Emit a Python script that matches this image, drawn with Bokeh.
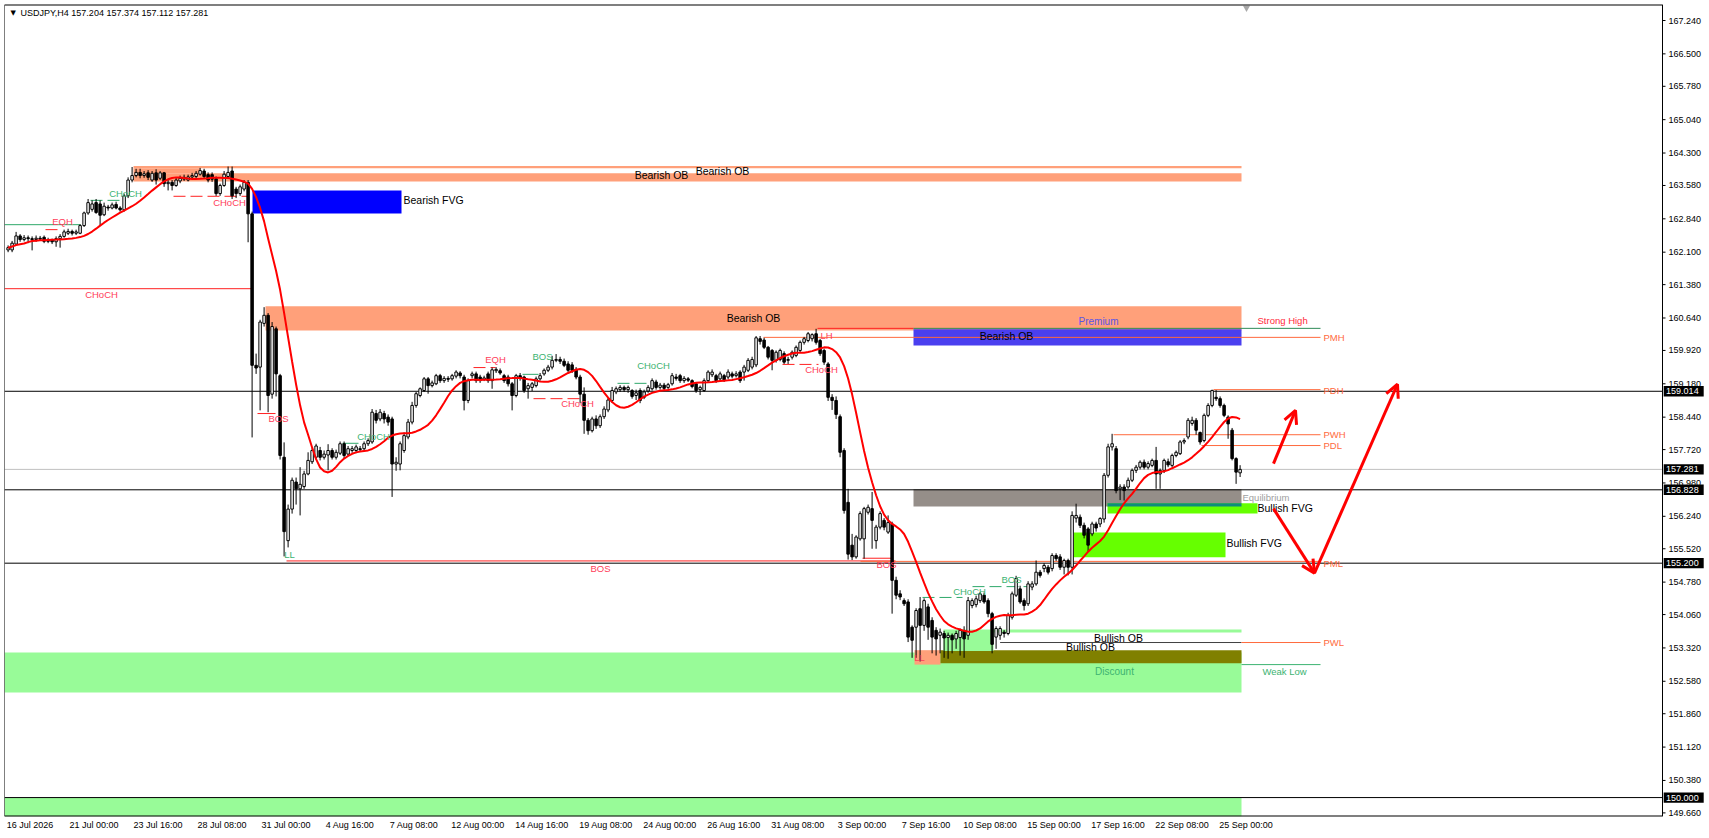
import numpy as np
import pandas as pd
from bokeh.plotting import figure
from bokeh.models import (ColumnDataSource, Range1d, FixedTicker, NumeralTickFormatter,
                          Label, Arrow, OpenHead)
from bokeh.embed import file_html
from bokeh.resources import INLINE
from bokeh.core.properties import value

# ---------------- data (USDJPY H4) ----------------
symbol = "USDJPY,H4"
last_ohlc = "157.204 157.374 157.112 157.281"

ohlc = [
 (162.15,162.25,162.10,162.20),(162.15,162.35,162.10,162.30),(162.28,162.55,162.25,162.46),(162.46,162.50,162.33,162.38),
 (162.38,162.48,162.34,162.42),(162.42,162.47,162.30,162.40),(162.40,162.45,162.14,162.38),(162.38,162.47,162.33,162.41),
 (162.41,162.46,162.35,162.39),(162.43,162.47,162.30,162.34),(162.34,162.42,162.30,162.37),(162.37,162.40,162.28,162.33),
 (162.33,162.45,162.22,162.40),(162.40,162.50,162.20,162.45),(162.45,162.60,162.42,162.55),(162.52,162.62,162.48,162.56),
 (162.56,162.60,162.47,162.52),(162.52,162.60,162.48,162.55),(162.52,162.72,162.50,162.69),(162.69,163.00,162.66,162.97),
 (162.97,163.28,162.93,163.20),(163.05,163.25,163.00,163.17),(163.20,163.28,162.95,162.98),(163.17,163.25,162.70,162.92),
 (162.93,163.20,162.90,163.12),(163.10,163.15,163.02,163.08),(163.08,163.20,163.05,163.15),(163.16,163.22,163.05,163.08),
 (163.08,163.12,163.00,163.04),(163.04,163.40,163.00,163.35),(163.35,163.76,163.30,163.70),(163.70,163.99,163.65,163.80),
 (163.80,163.95,163.76,163.87),(163.87,163.95,163.74,163.80),(163.80,163.90,163.75,163.84),(163.86,163.92,163.70,163.76),
 (163.70,163.90,163.66,163.85),(163.86,163.94,163.60,163.70),(163.74,163.90,163.70,163.86),(163.86,163.88,163.55,163.62),
 (163.62,163.70,163.47,163.65),(163.65,163.70,163.47,163.58),(163.58,163.75,163.55,163.70),(163.68,163.80,163.63,163.74),
 (163.72,163.82,163.68,163.76),(163.70,163.82,163.67,163.77),(163.77,163.86,163.72,163.80),(163.78,163.90,163.74,163.85),
 (163.83,163.97,163.80,163.91),(163.90,163.95,163.74,163.78),(163.82,163.87,163.65,163.70),(163.82,163.87,163.66,163.72),
 (163.73,163.78,163.35,163.40),(163.40,163.62,163.35,163.58),(163.58,163.90,163.55,163.83),(163.78,164.00,163.73,163.87),
 (163.90,164.00,163.28,163.35),(163.50,163.55,163.30,163.40),(163.40,163.60,163.35,163.55),(163.50,163.70,163.45,163.65),
 (163.65,163.70,162.32,162.95),(162.95,163.00,157.99,159.59),(159.59,159.85,159.40,159.53),(159.55,160.60,158.59,160.55),
 (160.52,160.88,160.45,160.70),(160.70,160.75,158.55,158.92),(158.95,160.55,158.85,160.45),(160.40,160.45,158.90,159.40),
 (159.36,159.40,157.50,157.59),(157.55,157.88,155.35,155.90),(155.70,156.50,155.55,156.40),(156.40,157.10,156.30,157.04),
 (157.00,157.10,156.50,156.85),(156.85,157.33,156.26,156.95),(156.90,157.25,156.85,157.18),(157.18,157.66,157.15,157.48),
 (157.45,157.75,157.40,157.70),(157.55,157.85,157.50,157.80),(157.70,157.78,157.48,157.55),(157.55,157.70,157.50,157.62),
 (157.60,157.84,157.26,157.70),(157.70,157.75,157.50,157.55),(157.55,157.72,157.50,157.66),(157.64,157.90,157.60,157.85),
 (157.85,157.90,157.52,157.59),(157.62,157.80,157.58,157.74),(157.70,157.80,157.65,157.74),(157.70,157.83,157.64,157.78),
 (157.74,157.80,157.68,157.72),(157.74,157.90,157.70,157.85),(157.85,157.97,157.80,157.92),(157.89,158.62,157.85,158.55),
 (158.52,158.60,158.30,158.37),(158.40,158.62,158.35,158.55),(158.52,158.58,158.30,158.40),(158.44,158.50,158.25,158.33),
 (158.40,158.45,156.67,157.40),(157.40,157.55,157.25,157.44),(157.40,157.90,157.26,157.85),(157.70,158.10,157.65,158.03),
 (158.00,158.40,157.95,158.33),(158.33,158.78,158.28,158.70),(158.70,159.00,158.65,158.96),(158.92,159.10,158.88,159.07),
 (159.03,159.33,159.00,159.29),(159.29,159.33,158.96,159.14),(159.14,159.25,159.10,159.20),(159.18,159.40,159.15,159.36),
 (159.36,159.40,159.20,159.25),(159.25,159.35,159.20,159.30),(159.30,159.35,159.22,159.28),(159.29,159.40,159.25,159.36),
 (159.35,159.48,159.30,159.44),(159.42,159.46,159.30,159.36),(159.33,159.38,158.59,158.81),(158.81,159.30,158.75,159.25),
 (159.36,159.45,159.30,159.40),(159.40,159.45,159.20,159.25),(159.33,159.38,159.20,159.25),(159.28,159.36,159.24,159.31),
 (159.40,159.45,159.20,159.25),(159.25,159.54,159.07,159.49),(159.47,159.55,159.42,159.50),(159.47,159.52,159.38,159.42),
 (159.36,159.40,159.20,159.25),(159.33,159.38,159.12,159.18),(159.18,159.22,158.59,158.92),(158.92,159.40,158.88,159.36),
 (159.36,159.42,159.25,159.30),(159.33,159.36,158.98,159.03),(159.07,159.20,158.85,159.14),(159.10,159.22,159.02,159.18),
 (159.14,159.34,159.10,159.29),(159.29,159.42,159.25,159.36),(159.40,159.52,159.36,159.48),(159.48,159.60,159.44,159.55),
 (159.55,159.80,159.50,159.70),(159.70,159.84,159.66,159.72),(159.72,159.78,159.62,159.68),(159.68,159.74,159.55,159.59),
 (159.62,159.68,159.44,159.48),(159.60,159.66,159.42,159.48),(159.50,159.55,159.28,159.33),(159.33,159.38,158.75,158.95),
 (158.95,159.10,158.07,158.37),(158.37,158.42,158.05,158.14),(158.14,158.45,158.10,158.40),(158.40,158.48,158.18,158.25),
 (158.25,158.50,158.20,158.45),(158.45,158.68,158.40,158.62),(158.60,158.88,158.55,158.82),(158.81,159.11,158.76,159.03),
 (159.00,159.12,158.95,159.07),(159.05,159.15,159.00,159.10),(159.10,159.14,159.00,159.05),(159.05,159.14,158.98,159.10),
 (159.03,159.06,158.85,158.90),(158.92,159.05,158.82,158.98),(159.03,159.08,158.75,158.81),(158.88,159.05,158.84,159.00),
 (159.02,159.15,158.98,159.10),(159.07,159.30,159.03,159.25),(159.22,159.27,159.05,159.10),(159.10,159.20,159.05,159.15),
 (159.15,159.20,159.02,159.08),(159.10,159.20,159.05,159.16),(159.18,159.42,159.14,159.36),(159.33,159.40,159.25,159.30),
 (159.36,159.40,159.20,159.25),(159.25,159.35,159.20,159.30),(159.29,159.33,159.22,159.26),(159.25,159.28,159.08,159.12),
 (159.18,159.22,158.98,159.03),(159.05,159.14,158.93,159.10),(159.03,159.30,159.00,159.25),(159.25,159.48,159.20,159.44),
 (159.38,159.50,159.33,159.44),(159.36,159.40,159.20,159.25),(159.29,159.45,159.24,159.40),(159.36,159.40,159.22,159.27),
 (159.33,159.50,159.28,159.44),(159.40,159.45,159.30,159.35),(159.36,159.46,159.32,159.40),(159.44,159.48,159.20,159.25),
 (159.44,159.60,159.25,159.55),(159.48,159.75,159.44,159.70),(159.55,159.78,159.50,159.72),(159.60,160.24,159.55,160.20),
 (160.18,160.24,160.05,160.12),(160.15,160.20,159.95,159.99),(159.99,160.02,159.72,159.77),(159.92,159.95,159.48,159.70),
 (159.70,159.92,159.65,159.88),(159.72,159.96,159.68,159.92),(159.85,159.90,159.62,159.66),(159.70,159.78,159.62,159.72),
 (159.77,159.92,159.72,159.88),(159.81,160.03,159.77,159.99),(159.92,160.14,159.88,160.10),(160.10,160.22,160.05,160.18),
 (160.14,160.33,160.10,160.29),(160.18,160.30,160.12,160.27),(160.29,160.40,160.05,160.10),(160.14,160.18,159.80,159.85),
 (159.92,159.96,159.60,159.66),(159.62,159.66,158.80,158.88),(158.88,158.95,158.60,158.81),(158.81,158.90,158.40,158.50),
 (158.45,158.50,157.55,157.66),(157.70,157.75,156.30,156.37),(156.55,156.85,155.28,155.40),(155.60,155.85,155.27,155.34),
 (155.34,155.82,155.30,155.78),(155.74,156.35,155.70,156.30),(155.74,156.45,155.30,156.41),(156.33,156.50,156.28,156.44),
 (156.41,156.78,155.52,156.15),(155.70,156.05,155.52,156.00),(156.00,156.35,155.95,156.30),(156.15,156.20,155.93,156.00),
 (155.89,156.26,155.85,156.10),(156.07,156.12,154.08,154.82),(154.82,154.90,154.40,154.49),(154.52,154.60,154.38,154.45),
 (154.37,154.42,154.25,154.30),(154.34,154.40,153.45,153.56),(153.78,153.82,153.10,153.49),(153.78,154.20,153.10,154.15),
 (154.19,154.45,153.02,153.82),(153.82,154.42,153.70,154.37),(154.23,154.30,153.50,153.78),(153.93,154.00,153.20,153.56),
 (153.71,153.78,153.15,153.52),(153.60,153.75,153.20,153.67),(153.64,153.70,153.10,153.54),(153.55,153.66,153.08,153.60),
 (153.60,153.64,153.20,153.50),(153.52,153.70,153.30,153.64),(153.55,153.75,153.15,153.71),(153.70,153.80,153.10,153.52),
 (153.60,154.45,153.50,154.37),(154.26,154.42,154.20,154.37),(154.28,154.48,154.22,154.41),(154.37,154.56,154.32,154.52),
 (154.49,154.55,154.30,154.34),(154.37,154.42,154.00,154.08),(154.08,154.12,153.20,153.40),(153.56,153.80,153.30,153.75),
 (153.60,153.80,153.50,153.75),(153.67,153.72,153.55,153.64),(153.64,154.10,153.60,154.04),(154.00,154.57,153.95,154.52),
 (154.49,154.92,154.45,154.86),(154.63,154.70,154.30,154.34),(154.37,154.42,154.15,154.26),(154.30,154.80,154.25,154.74),
 (154.67,154.80,154.60,154.74),(154.74,155.26,154.70,155.00),(155.00,155.05,154.88,154.93),(155.08,155.20,155.00,155.15),
 (155.11,155.16,154.95,155.00),(155.08,155.42,155.02,155.37),(155.37,155.42,155.25,155.30),(155.34,155.40,155.05,155.11),
 (155.11,155.30,154.95,155.26),(155.26,155.30,154.93,155.11),(155.11,156.35,154.95,156.26),(156.20,156.52,156.10,156.26),
 (156.22,156.28,155.98,156.04),(156.04,156.10,155.75,155.82),(155.96,156.00,155.45,155.60),(155.85,156.12,155.80,156.07),
 (156.07,156.12,155.90,155.98),(156.07,156.22,156.00,156.19),(156.18,157.20,156.10,157.15),(157.15,157.85,157.10,157.78),
 (157.78,158.07,157.70,157.85),(157.74,157.80,156.75,156.81),(156.85,156.95,156.60,156.89),(156.89,156.95,156.59,156.81),
 (156.89,157.10,156.85,157.04),(157.04,157.30,157.00,157.26),(157.26,157.38,157.20,157.33),(157.33,157.48,157.28,157.44),
 (157.44,157.50,157.28,157.33),(157.33,157.46,157.28,157.41),(157.37,157.52,157.33,157.48),(157.48,157.78,156.85,157.18),
 (157.18,157.30,156.85,157.26),(157.26,157.52,157.20,157.48),(157.45,157.52,157.33,157.38),(157.37,157.63,157.33,157.59),
 (157.59,157.70,157.55,157.66),(157.63,157.93,157.60,157.89),(157.89,157.97,157.84,157.92),(158.00,158.42,157.95,158.37),
 (158.30,158.45,158.25,158.37),(158.37,158.42,158.05,158.15),(158.10,158.12,157.83,157.89),(157.92,158.52,157.88,158.48),
 (158.48,158.75,158.44,158.70),(158.70,159.05,158.66,159.03),(158.88,159.04,158.80,158.85),(158.85,158.90,158.65,158.70),
 (158.70,158.74,158.44,158.48),(158.44,158.48,157.96,158.29),(158.15,158.20,157.48,157.52),(157.52,157.55,156.96,157.22),
 (157.204,157.374,157.112,157.281),
]
open_ = np.array([r[0] for r in ohlc])
high_ = np.array([r[1] for r in ohlc])
low_ = np.array([r[2] for r in ohlc])
close_ = np.array([r[3] for r in ohlc])
bars = np.arange(len(ohlc))

date_bars = [0, 16, 32, 48, 64, 80, 96, 112, 128, 144, 160, 176, 192, 208, 224, 240, 256, 272, 288, 304]
date_labels = ["16 Jul 2026", "21 Jul 00:00", "23 Jul 16:00", "28 Jul 08:00", "31 Jul 00:00",
               "4 Aug 16:00", "7 Aug 08:00", "12 Aug 00:00", "14 Aug 16:00", "19 Aug 08:00",
               "24 Aug 00:00", "26 Aug 16:00", "31 Aug 08:00", "3 Sep 00:00", "7 Sep 16:00",
               "10 Sep 08:00", "15 Sep 00:00", "17 Sep 16:00", "22 Sep 08:00", "25 Sep 00:00"]
price_ticks = [167.24, 166.50, 165.78, 165.04, 164.30, 163.58, 162.84, 162.10, 161.38, 160.64,
               159.92, 159.18, 158.44, 157.72, 156.98, 156.24, 155.52, 154.78, 154.06, 153.32,
               152.58, 151.86, 151.12, 150.38, 149.66]

hline_levels = [159.014, 156.828, 155.200, 150.000]
bid_level = 157.281
box_levels = [159.014, 157.281, 156.828, 155.200, 150.000]

# zones: left bar, right bar, bottom price, top price
zone_left   = [-0.9, -0.9, 31.35, 31.35, 31.35, 61.1, 64.35, 226.35, 226.35, 274.85, 274.85, 266.35, 226.6, 233.1, 233.85, 246.35]
zone_right  = [308.35, 308.35, 308.35, 308.35, 48.1, 98.35, 308.35, 308.35, 308.35, 312.35, 308.35, 304.35, 233.1, 308.35, 246.35, 308.35]
zone_bottom = [152.33, 149.58, 163.96, 163.67, 163.85, 162.96, 160.36, 160.03, 156.46, 156.30, 156.46, 155.33, 152.95, 152.98, 153.25, 153.66]
zone_top    = [153.22, 149.99, 164.01, 163.85, 163.96, 163.47, 160.90, 160.39, 156.84, 156.53, 156.53, 155.88, 153.27, 153.27, 153.73, 153.73]
zone_kind   = ["discount", "discount", "bear_ob", "bear_ob", "bear_ob", "bear_fvg", "bear_ob", "prem_ob",
               "equilibrium", "bull_fvg", "fvg_edge", "bull_fvg", "bear_ob", "bull_ob", "discount", "discount"]

# structure lines: x0, x1, price, kind
seg_x0 = [-0.9, -0.9, 62.35, 69.6, 83.6, 128.6, 202.35, 226.35, 188.85, 301.35, 276.35, 298.35, 213.1, 248.0, 308.35, 308.35, 213.6]
seg_x1 = [61.1, 18.1, 66.85, 221.85, 87.6, 132.6, 226.35, 328.1, 328.1, 328.1, 328.1, 328.1, 328.1, 308.35, 328.1, 328.1, 221.1]
seg_y  = [161.29, 162.71, 158.52, 155.25, 157.86, 159.39, 160.41, 160.41, 160.21, 159.05, 158.05, 157.81, 155.24, 153.44, 153.44, 152.95, 155.31]
seg_kind = ["bear", "bull", "bear", "bear", "bull", "bull", "bear", "zone", "level", "level", "level", "level", "level", "dark", "level", "weak", "bear"]

dash_x0 = [9.35, 20.6, 41.35, 116.35, 131.35, 152.35, 193.6, 228.6, 241.1]
dash_x1 = [13.6, 29.4, 59.85, 121.85, 143.85, 161.35, 202.6, 238.6, 254.85]
dash_y  = [162.60, 163.25, 163.34, 159.54, 158.85, 159.19, 159.61, 154.44, 154.68]
dash_kind = ["bear", "bull", "bear", "bear", "bear", "bull", "bear", "bull", "bull"]

# small structure labels
smc_x = [13.6, 29.35, 55.35, 23.35, 67.6, 70.35, 91.35, 121.85, 133.6, 142.35, 148.1, 161.35, 203.35, 219.6, 240.35, 250.85, 227.85]
smc_y = [162.78, 163.40, 163.20, 161.16, 158.41, 155.40, 158.01, 159.72, 159.79, 158.74, 155.08, 159.59, 159.50, 155.17, 154.57, 154.84, 153.10]
smc_text = ["EQH", "CHoCH", "CHoCH", "CHoCH", "BOS", "LL", "CHoCH", "EQH", "BOS", "CHoCH", "BOS", "CHoCH", "CHoCH", "BOS", "CHoCH", "BOS", "LL"]
smc_kind = ["bear", "bull", "bear", "bear", "bear", "bull", "bull", "bear", "bull", "bear", "bear", "bull", "bear", "bear", "bull", "bull", "bear"]

zone_lbl_x = [163.35, 178.6, 186.35, 249.6, 277.6, 270.6]
zone_lbl_y = [163.82, 163.89, 160.63, 160.23, 153.54, 153.34]
zone_lbl_text = ["Bearish OB", "Bearish OB", "Bearish OB", "Bearish OB", "Bullish OB", "Bullish OB"]

fvg_lbl_x = [98.85, 312.35, 304.6]
fvg_lbl_y = [163.25, 156.42, 155.64]
fvg_lbl_text = ["Bearish FVG", "Bullish FVG", "Bullish FVG"]

side_lbl_x = [312.35, 328.85, 328.85, 328.85, 328.85, 328.85, 328.85, 313.6, 308.6, 203.1]
side_lbl_y = [160.59, 160.21, 159.03, 158.05, 157.81, 155.20, 153.44, 152.79, 156.66, 160.25]
side_lbl_text = ["Strong High", "PMH", "PDH", "PWH", "PDL", "PML", "PWL", "Weak Low", "Equilibrium", "LH"]
side_lbl_kind = ["strong", "level", "level", "level", "level", "level", "level", "weak", "eq", "bear"]

pd_lbl_x = [272.6, 276.6]
pd_lbl_y = [160.57, 152.79]
pd_lbl_text = ["Premium", "Discount"]
pd_lbl_kind = ["premium", "weak"]

# projected path arrows (bar, price)
arrow_up_x = [316.35, 321.85]
arrow_up_y = [157.41, 158.59]
path_x = [316.35, 326.6, 347.35]
path_y = [156.41, 154.98, 159.17]

# ---------------- styles ----------------
FONT = "Liberation Sans"
RED_LBL = "#FF3D5A"
GRN_LBL = "#3CB371"
LEVEL = "#FF6A3D"
zone_colors = {"discount": "#98FB98", "bear_ob": "#FFA07A", "bear_fvg": "#0000FF", "prem_ob": "#4A3FEF",
               "equilibrium": "#958E89", "bull_fvg": "#66FF00", "fvg_edge": "#0E8C7C", "bull_ob": "#808000"}
line_colors = {"bear": "#FF2020", "bull": "#2EA86A", "zone": "#2E8B57", "level": LEVEL, "dark": "#404040", "weak": GRN_LBL}
text_colors = {"bear": RED_LBL, "bull": GRN_LBL, "strong": "#FF2A3A", "level": LEVEL, "weak": GRN_LBL,
               "eq": "#A0A0A0", "premium": "#5A55E6"}

# chart area spans bars -0.9..413.6; the price-scale strip to its right is part of the frame
x_start, x_chart_end, x_end = -0.9, 413.6, 423.35
p = figure(width=1709, height=838, output_backend="svg", toolbar_location=None,
           x_range=Range1d(x_start, x_end), y_range=Range1d(149.58, 167.595),
           y_axis_location="right", min_border_left=4, min_border_top=4,
           min_border_right=8, min_border_bottom=22)
p.xgrid.visible = False
p.ygrid.visible = False
p.outline_line_color = None
p.background_fill_color = "white"
p.border_fill_color = "white"

# price axis: labels pulled back into the price strip
p.yaxis.ticker = FixedTicker(ticks=price_ticks)
p.yaxis.formatter = NumeralTickFormatter(format="0.000")
p.yaxis.major_label_text_font = FONT
p.yaxis.major_label_text_font_size = "9px"
p.yaxis.major_label_text_color = "black"
p.yaxis.axis_line_color = None
p.yaxis.major_tick_line_color = None
p.yaxis.major_tick_out = 0
p.yaxis.major_tick_in = 0
p.yaxis.minor_tick_out = 0
p.yaxis.minor_tick_in = 0
p.yaxis.major_label_standoff = -33

xticks = [b + 5.5 for b in date_bars]
p.xaxis.ticker = FixedTicker(ticks=xticks)
p.xaxis.major_label_overrides = {t: l for t, l in zip(xticks, date_labels)}
p.xaxis.major_label_text_font = FONT
p.xaxis.major_label_text_font_size = "9px"
p.xaxis.major_label_text_color = "black"
p.xaxis.axis_line_color = None
p.xaxis.major_tick_out = 0
p.xaxis.major_tick_in = 0
p.xaxis.minor_tick_out = 0
p.xaxis.minor_tick_in = 0
p.xaxis.major_label_standoff = 3

# zones
zsrc = ColumnDataSource(dict(left=zone_left, right=zone_right, bottom=zone_bottom, top=zone_top,
                             color=[zone_colors[k] for k in zone_kind]))
p.quad(left="left", right="right", bottom="bottom", top="top", fill_color="color",
       line_color=None, source=zsrc)

# horizontal price levels (chart area only)
p.segment(x0=x_start, y0=hline_levels, x1=x_chart_end, y1=hline_levels, line_color="black", line_width=1)
p.segment(x0=x_start, y0=[bid_level], x1=x_chart_end, y1=[bid_level], line_color="#C0C0C0", line_width=1)

# structure lines
ssrc = ColumnDataSource(dict(x0=seg_x0, x1=seg_x1, y=seg_y, color=[line_colors[k] for k in seg_kind]))
p.segment(x0="x0", y0="y", x1="x1", y1="y", line_color="color", line_width=1, source=ssrc)
dsrc = ColumnDataSource(dict(x0=dash_x0, x1=dash_x1, y=dash_y, color=[line_colors[k] for k in dash_kind]))
p.segment(x0="x0", y0="y", x1="x1", y1="y", line_color="color", line_width=1, line_dash="12 5", source=dsrc)

# candles
up = close_ >= open_
dn = ~up
p.segment(x0=bars, y0=low_, x1=bars, y1=high_, line_color="black", line_width=1)
p.vbar(x=bars[up], width=0.62, top=close_[up], bottom=open_[up], fill_color="white",
       line_color="black", line_width=1)
p.vbar(x=bars[dn], width=0.62, top=open_[dn], bottom=close_[dn], fill_color="black",
       line_color="black", line_width=1)

# moving average (triangular smoothing of closes)
ma = pd.Series(close_).rolling(10, min_periods=1).mean().rolling(5, min_periods=1).mean()
p.line(bars, ma.values, line_color="#FF0000", line_width=2)

# arrows
p.add_layout(Arrow(end=OpenHead(size=13, line_color="#FF0000", line_width=3),
                   x_start=arrow_up_x[0], y_start=arrow_up_y[0], x_end=arrow_up_x[1], y_end=arrow_up_y[1],
                   line_color="#FF0000", line_width=3))
p.add_layout(Arrow(end=OpenHead(size=13, line_color="#FF0000", line_width=3),
                   x_start=path_x[0], y_start=path_y[0], x_end=path_x[1], y_end=path_y[1],
                   line_color="#FF0000", line_width=3))
p.add_layout(Arrow(end=OpenHead(size=13, line_color="#FF0000", line_width=3),
                   x_start=path_x[1], y_start=path_y[1], x_end=path_x[2], y_end=path_y[2],
                   line_color="#FF0000", line_width=3))

# texts
p.text(x=smc_x, y=smc_y, text=smc_text, text_color=[text_colors[k] for k in smc_kind],
       text_align="center", text_baseline="middle", text_font=value(FONT), text_font_size="9.5px")
p.text(x=zone_lbl_x, y=zone_lbl_y, text=zone_lbl_text, text_color="black",
       text_align="center", text_baseline="middle", text_font=value(FONT), text_font_size="10.5px")
p.text(x=fvg_lbl_x, y=fvg_lbl_y, text=fvg_lbl_text, text_color="black",
       text_align="left", text_baseline="middle", text_font=value(FONT), text_font_size="10.5px")
p.text(x=side_lbl_x, y=side_lbl_y, text=side_lbl_text, text_color=[text_colors[k] for k in side_lbl_kind],
       text_align="left", text_baseline="middle", text_font=value(FONT), text_font_size="9.5px")
p.text(x=pd_lbl_x, y=pd_lbl_y, text=pd_lbl_text, text_color=[text_colors[k] for k in pd_lbl_kind],
       text_align="center", text_baseline="middle", text_font=value(FONT), text_font_size="10px")

# chart shift marker
p.scatter(x=[309.6], y=[167.52], marker="inverted_triangle", size=7, fill_color="#A8A8A8", line_color=None)

# chart border: top/bottom edges of the chart area, left edge and the price-scale line with its tick marks
p.segment(x0=x_start, y0=[167.595, 149.58], x1=x_chart_end, y1=[167.595, 149.58], line_color="black", line_width=2)
p.vspan(x=[x_start, x_chart_end], line_color="black", line_width=1)
p.segment(x0=x_chart_end, y0=price_ticks, x1=x_chart_end + 0.75, y1=price_ticks, line_color="black", line_width=1)

# price boxes on the price scale
p.quad(left=x_chart_end + 0.3, right=x_chart_end + 10.3, bottom=[lv - 0.115 for lv in box_levels],
       top=[lv + 0.115 for lv in box_levels], fill_color="black", line_color=None, level="overlay")
p.text(x=[x_chart_end + 0.9] * len(box_levels), y=box_levels, text=[f"{lv:.3f}" for lv in box_levels],
       text_color="white", text_align="left", text_baseline="middle", text_font=value(FONT),
       text_font_size="9px", level="overlay")

# header
p.add_layout(Label(x=0.6, y=167.40, text="\u25BC", text_font="DejaVu Sans", text_font_size="7px",
                   text_color="black", text_baseline="middle"))
p.add_layout(Label(x=3.1, y=167.40, text=symbol + "  " + last_ohlc, text_font=FONT,
                   text_font_size="9px", text_color="black", text_baseline="middle"))

open("out.html", "w").write(file_html(p, INLINE))
